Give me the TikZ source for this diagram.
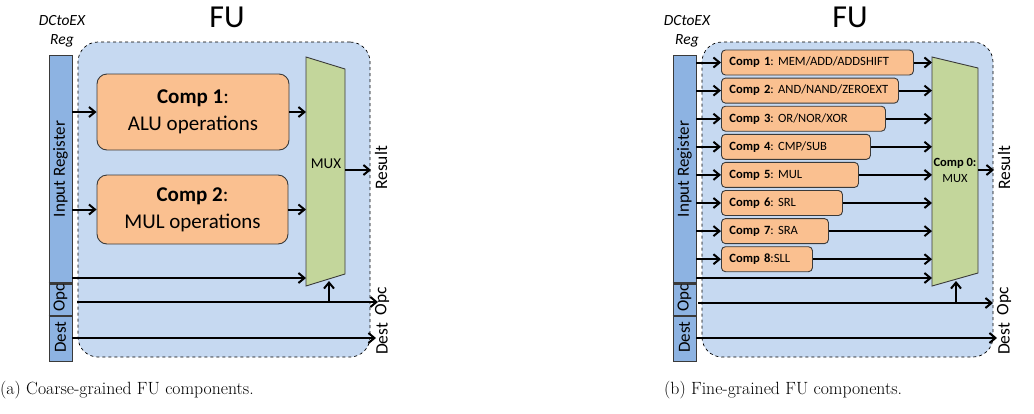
\documentclass[tikz,border=0pt]{standalone}
\usepackage{fontspec}
\newfontfamily\calf{Carlito}
\usetikzlibrary{arrows.meta}
\definecolor{fubg}{HTML}{C6D9F1}
\definecolor{regbg}{HTML}{8DB3E2}
\definecolor{compbg}{HTML}{FAC090}
\definecolor{muxbg}{HTML}{C3D69B}
\definecolor{edge}{HTML}{3A3A3A}
\begin{document}
\frenchspacing
\begin{tikzpicture}[x=1pt,y=-1pt,
  arr/.style={line width=2pt,-{Straight Barb[length=6pt,width=10pt,line width=2pt]}},
  fubox/.style={draw=black,dashed,line width=0.7pt,fill=fubg,rounded corners=20pt,inner sep=0pt},
  regseg/.style={draw=edge,line width=0.8pt,fill=regbg,inner sep=0pt,minimum width=23pt},
  sep/.style={line width=2.4pt,draw=edge},
  bigcomp/.style={draw=edge,line width=0.9pt,fill=compbg,rounded corners=10pt,align=center,font=\calf\fontsize{21}{27}\selectfont,inner sep=0pt},
  smallcomp/.style={draw=edge,line width=0.9pt,fill=compbg,rounded corners=4pt,anchor=west,align=left,inner xsep=8pt,inner ysep=0pt,minimum height=25pt,font=\calf\fontsize{12.6}{13}\selectfont},
  muxshape/.style={draw=edge,line width=0.9pt,fill=muxbg},
  rottxt/.style={rotate=90,font=\calf\fontsize{17.5}{19}\selectfont,inner sep=0pt},
  regtxt/.style={rotate=90,font=\calf\fontsize{17}{19}\selectfont,inner sep=0pt},
  dctxt/.style={font=\calf\itshape\fontsize{15.5}{19}\selectfont,align=center,inner sep=0pt},
  futxt/.style={font=\calf\fontsize{32}{33}\selectfont,inner sep=0pt},
  captxt/.style={font=\fontsize{17.7}{20}\selectfont,anchor=west,inner sep=0pt}
]
\useasboundingbox (0,0) rectangle (1034,413);

% ================= Panel (a) =================
\node[futxt] (futa) at (227,17) {FU};
\node[dctxt] (dca) at (62,31) {DCtoEX\\Reg};
\node[fubox,minimum width=292pt,minimum height=315pt] (fua) at (224,199.5) {};
% register bar
\node[regseg,minimum height=228pt] (rega) at (60.5,169) {};
\node[regseg,minimum height=33.5pt] (opca) at (60.5,299.75) {};
\node[regseg,minimum height=44.5pt] (desta) at (60.5,338.75) {};
\draw[sep] (rega.south west) -- (rega.south east);
\draw[sep] (desta.north west) -- (desta.north east);
\node[regtxt] (irta) at (rega.center) {Input Register};
\node[regtxt] (opcta) at (60.5,298) {Opc};
\node[regtxt] (destta) at (60.5,337) {Dest};
% components
\node[bigcomp,minimum width=192pt,minimum height=76pt] (c1a) at (193,112) {\textbf{Comp 1}:\\ALU operations};
\node[bigcomp,minimum width=191pt,minimum height=69pt] (c2a) at (192.5,209.5) {\textbf{Comp 2}:\\MUL operations};
% mux
\coordinate (mta) at (306,57);
\coordinate (mtra) at (345,69);
\coordinate (mbra) at (345,274);
\coordinate (mba) at (306,286);
\draw[muxshape] (mta) -- (mtra) -- (mbra) -- (mba) -- cycle;
\node[font=\calf\fontsize{15}{16}\selectfont,inner sep=0pt] (muxa) at (326,164) {MUX};
% arrows
\coordinate (m1a) at (306,112);
\coordinate (m2a) at (306,209.5);
\coordinate (m3a) at (306,278);
\draw[arr] (c1a.west -| rega.east) -- (c1a.west);
\draw[arr] (c2a.west -| rega.east) -- (c2a.west);
\draw[arr] (c1a.east) -- (m1a);
\draw[arr] (c2a.east) -- (m2a);
\draw[arr] (rega.east |- m3a) -- (m3a);
\coordinate (ros) at (345,170);
\coordinate (roe) at (371,170);
\draw[arr] (ros) -- (roe);
\coordinate (oas) at (77,302);
\coordinate (oae) at (378,302);
\draw[arr] (oas) -- (oae);
\coordinate (sela) at (329,302);
\coordinate (selea) at (329,281);
\draw[arr] (sela) -- (selea);
\coordinate (dae) at (376,338);
\draw[arr] (desta.east |- dae) -- (dae);
\node[rottxt] (resa) at (381,168) {Result};
\node[rottxt] (opcla) at (382,301) {Opc};
\node[rottxt] (destla) at (382,339) {Dest};

% ================= Panel (b) =================
\node[futxt] (futb) at (850,17) {FU};
\node[dctxt] (dcb) at (687,31) {DCtoEX\\Reg};
\node[fubox,minimum width=291pt,minimum height=315pt] (fub) at (847.5,199.5) {};
\node[regseg,minimum height=228pt] (regb) at (684.5,169) {};
\node[regseg,minimum height=33.5pt] (opcb) at (684.5,299.75) {};
\node[regseg,minimum height=44.5pt] (destb) at (684.5,338.75) {};
\draw[sep] (regb.south west) -- (regb.south east);
\draw[sep] (destb.north west) -- (destb.north east);
\node[regtxt] (irtb) at (regb.center) {Input Register};
\node[regtxt] (opctb) at (684.5,298) {Opc};
\node[regtxt] (desttb) at (684.5,337) {Dest};
% mux
\coordinate (mtb) at (932,57);
\coordinate (mtrb) at (978,68);
\coordinate (mbrb) at (978,273);
\coordinate (mbb) at (932,286);
\draw[muxshape] (mtb) -- (mtrb) -- (mbrb) -- (mbb) -- cycle;
\node[font=\calf\fontsize{12.5}{16}\selectfont,align=center,inner sep=0pt] (muxb) at (955,170) {\textbf{Comp 0:}\\MUX};
% components
\node[smallcomp,text width=176pt] (k1) at (721,62.5) {\textbf{Comp 1}: MEM/ADD/ADDSHIFT};
\node[smallcomp,text width=161pt] (k2) at (721,90.6) {\textbf{Comp 2}: AND/NAND/ZEROEXT};
\node[smallcomp,text width=148pt] (k3) at (721,118.7) {\textbf{Comp 3}: OR/NOR/XOR};
\node[smallcomp,text width=133pt] (k4) at (721,146.8) {\textbf{Comp 4}: CMP/SUB};
\node[smallcomp,text width=121pt] (k5) at (721,174.9) {\textbf{Comp 5}: MUL};
\node[smallcomp,text width=105pt] (k6) at (721,203) {\textbf{Comp 6}: SRL};
\node[smallcomp,text width=91pt] (k7) at (721,231.1) {\textbf{Comp 7}: SRA};
\node[smallcomp,text width=75pt] (k8) at (721,259.2) {\textbf{Comp 8}:SLL};
\coordinate (mlb) at (932,0);
\foreach \k in {k1,k2,k3,k4,k5,k6,k7,k8}{
  \draw[arr] (\k.west -| regb.east) -- (\k.west);
  \draw[arr] (\k.east) -- (\k.east -| mlb);
}
\coordinate (m9b) at (932,278);
\draw[arr] (regb.east |- m9b) -- (m9b);
\coordinate (rbs) at (978,170);
\coordinate (rbe) at (994,170);
\draw[arr] (rbs) -- (rbe);
\coordinate (obs) at (698,303);
\coordinate (obe) at (993,303);
\draw[arr] (obs) -- (obe);
\coordinate (selb) at (956,303);
\coordinate (seleb) at (956,281);
\draw[arr] (selb) -- (seleb);
\coordinate (dbe) at (997,338);
\draw[arr] (destb.east |- dbe) -- (dbe);
\node[rottxt] (resb) at (1004,168) {Result};
\node[rottxt] (opclb) at (1004,301) {Opc};
\node[rottxt] (destlb) at (1004,339) {Dest};

% captions
\node[captxt] (capa) at (0,390) {(a) Coarse-grained FU components.};
\node[captxt] (capb) at (664,390) {(b) Fine-grained FU components.};
\end{tikzpicture}
\end{document}
